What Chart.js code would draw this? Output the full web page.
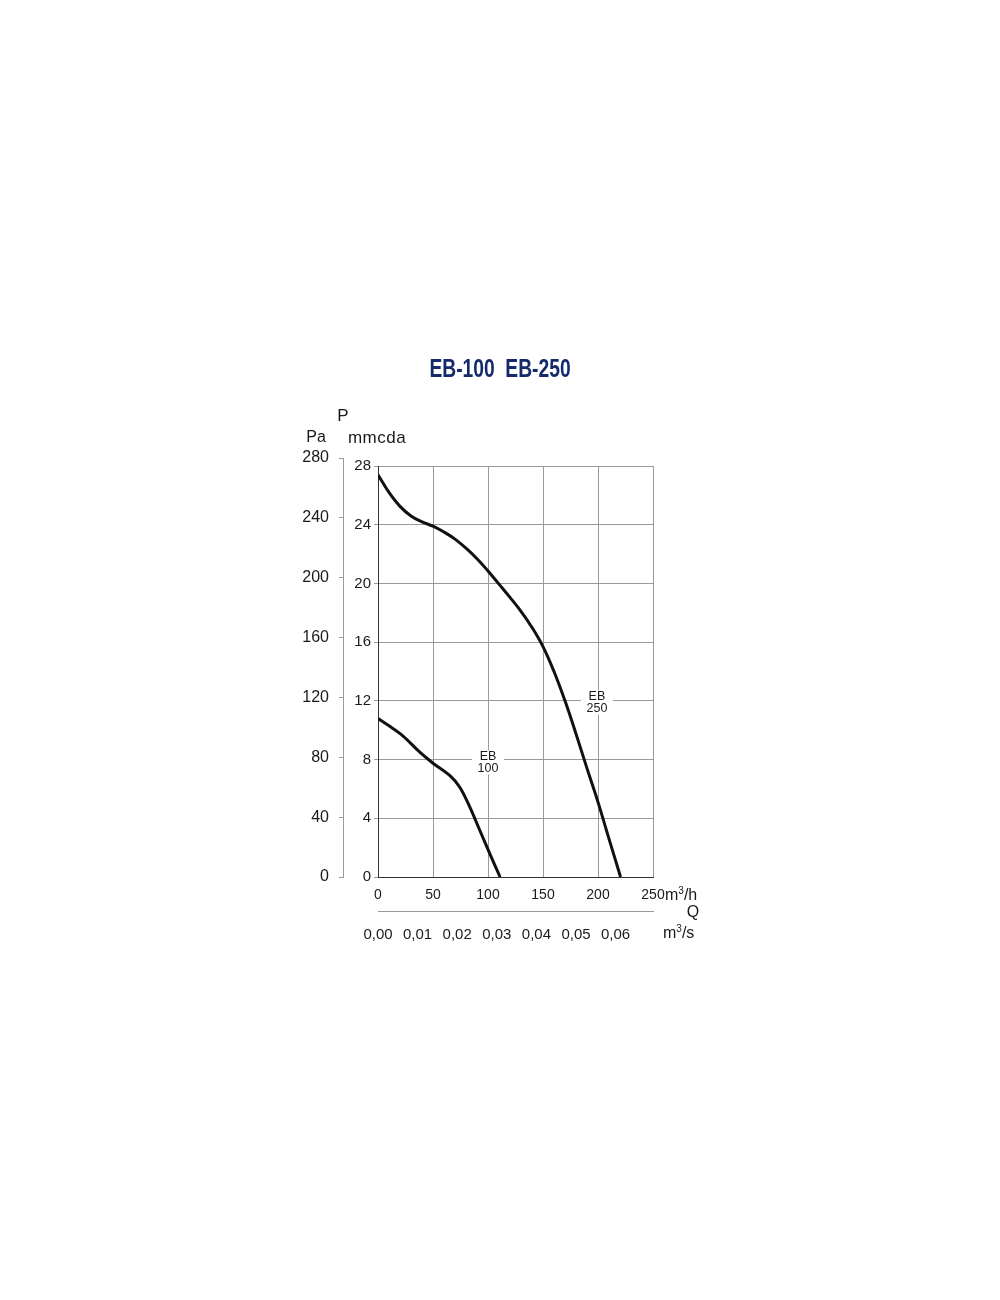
<!DOCTYPE html>
<html><head><meta charset="utf-8">
<script src="https://cdn.jsdelivr.net/npm/chart.js@4.4.1/dist/chart.umd.min.js"></script>
<style>
html,body{margin:0;padding:0;background:#fff;}
#wrap{position:relative;width:1000px;height:1300px;overflow:hidden;}
#c{position:absolute;left:0;top:0;}
.t{position:absolute;font-family:"Liberation Sans",Arial,sans-serif;font-size:16px;color:#1a1a1a;white-space:nowrap;line-height:1;transform:translate(-50%,-50%);}
.l{transform:translate(0,-50%);}
#title{font-family:"Liberation Sans",Arial,sans-serif;font-weight:bold;font-size:26px;color:#152a6b;transform:translate(-50%,-50%) scaleX(0.74);}
sup{font-size:10px;vertical-align:6px;line-height:0;}
</style></head>
<body>
<div id="wrap">
<canvas id="c" width="1000" height="1300"></canvas>
<div class="t" id="title" style="left:500px;top:368px;">EB-100&nbsp;&nbsp;EB-250</div>
<div class="t" style="left:343px;top:415px;font-size:17px;">P</div>
<div class="t" style="left:316px;top:437px;">Pa</div>
<div class="t" style="left:377px;top:437px;font-size:17px;letter-spacing:0.5px;">mmcda</div>
<div class="t l" style="left:665px;top:895px;">m<sup>3</sup>/h</div>
<div class="t" style="left:693px;top:912px;">Q</div>
<div class="t l" style="left:663px;top:933px;">m<sup>3</sup>/s</div>
</div>
<script>
// Flow (m3/h) and pressure (mmcda)
const eb100Q = [0, 10, 22.8, 38, 50, 65.4, 74.5, 83.6, 92.7, 101.8, 111];
const eb100P = [10.8, 10.3, 9.6, 8.5, 7.75, 6.9, 6.1, 4.74, 3.15, 1.56, 0];
const eb250Q = [0, 10, 20, 30, 40, 50, 60, 70, 80, 90, 100, 110, 120, 130, 140, 150, 160, 170, 180, 190, 200, 210, 220.5];
const eb250P = [27.4, 26.2, 25.25, 24.6, 24.2, 23.9, 23.5, 23.02, 22.4, 21.68, 20.85, 19.95, 19.05, 18.1, 17.0, 15.7, 14.0, 12.0, 9.75, 7.4, 5.1, 2.6, 0];
const seriesNames = ['EB-100', 'EB-250'];
// Tick labels
const flowTicks = [0, 50, 100, 150, 200, 250];
const mmTicks = [0, 4, 8, 12, 16, 20, 24, 28];
const paTicks = [0, 40, 80, 120, 160, 200, 240, 280];
const m3sTicks = [0, 0.01, 0.02, 0.03, 0.04, 0.05, 0.06];
// Curve labels
const curveLabelLines = [['EB', '100'], ['EB', '250']];
const curveLabelQ = [100, 199];
const curveLabelP = [7.8, 11.9];

const PA_PER_MM = 9.81;
const FLOW_MAX = 250;
const P_MAX = 28;

Chart.defaults.font.family = '"Liberation Sans", Arial, sans-serif';
Chart.defaults.font.size = 15;
Chart.defaults.color = '#1a1a1a';

const toPts = (q, p) => q.map((v, i) => ({x: v, y: p[i]}));
const gridCol = c => (c.tick && c.tick.value === 0) ? '#333' : '#9a9a9a';

const extras = {
  id: 'extras',
  beforeDatasetsDraw(chart) {
    const ctx = chart.ctx;
    const pa = chart.scales.yPa;
    ctx.save();
    ctx.strokeStyle = '#9a9a9a';
    ctx.lineWidth = 1;
    ctx.beginPath();
    const xl = Math.round(pa.right) - 0.5;
    ctx.moveTo(xl, pa.getPixelForValue(0));
    ctx.lineTo(xl, pa.getPixelForValue(paTicks[paTicks.length - 1]));
    ctx.stroke();
    // curve labels
    const xs = chart.scales.x, ys = chart.scales.y;
    ctx.font = '12.5px "Liberation Sans", Arial, sans-serif';
    ctx.textAlign = 'center';
    ctx.textBaseline = 'middle';
    curveLabelLines.forEach((lines, i) => {
      const cx = xs.getPixelForValue(curveLabelQ[i]);
      const cy = ys.getPixelForValue(curveLabelP[i]);
      ctx.fillStyle = '#fff';
      ctx.fillRect(cx - 16, cy - 12, 32, 24);
      ctx.fillStyle = '#1a1a1a';
      ctx.fillText(lines[0], cx, cy - 5.5);
      ctx.fillText(lines[1], cx, cy + 6);
    });
    ctx.restore();
  }
};

new Chart(document.getElementById('c'), {
  type: 'line',
  data: {
    datasets: [
      {label: seriesNames[0], data: toPts(eb100Q, eb100P), borderColor: '#111', borderWidth: 3, pointRadius: 0, tension: 0.35, fill: false},
      {label: seriesNames[1], data: toPts(eb250Q, eb250P), borderColor: '#111', borderWidth: 3, pointRadius: 0, tension: 0.4, fill: false}
    ]
  },
  options: {
    responsive: false,
    animation: false,
    events: [],
    layout: {padding: {left: 290, right: 347, top: 466, bottom: 349}},
    plugins: {legend: {display: false}, tooltip: {enabled: false}, title: {display: false}},
    scales: {
      x: {
        type: 'linear', position: 'bottom', weight: 0, min: 0, max: FLOW_MAX,
        afterBuildTicks: s => { s.ticks = flowTicks.map(v => ({value: v})); },
        afterFit: s => { s.height = 34; },
        grid: {color: gridCol, lineWidth: 1, drawTicks: false},
        border: {display: true, color: '#333', width: 1},
        ticks: {padding: 10, maxRotation: 0, autoSkip: false, font: {size: 14}}
      },
      xs: {
        type: 'linear', position: 'bottom', weight: 1, min: 0, max: FLOW_MAX / 3600,
        afterBuildTicks: s => { s.ticks = m3sTicks.map(v => ({value: v})); },
        afterFit: s => { s.height = 40; },
        grid: {display: false, drawOnChartArea: false},
        border: {display: true, color: '#9a9a9a', width: 1},
        ticks: {padding: 7, maxRotation: 0, autoSkip: false, font: {size: 15}, callback: v => v.toFixed(2).replace('.', ',')}
      },
      y: {
        type: 'linear', position: 'left', weight: 0, min: 0, max: P_MAX,
        afterBuildTicks: s => { s.ticks = mmTicks.map(v => ({value: v})); },
        afterFit: s => { s.width = 34; },
        grid: {color: gridCol, lineWidth: 1, drawTicks: true, tickLength: 4, tickColor: '#9a9a9a'},
        border: {display: true, color: '#333', width: 1},
        ticks: {padding: 3, autoSkip: false, font: {size: 15}}
      },
      yPa: {
        type: 'linear', position: 'left', weight: 1, min: 0, max: P_MAX * PA_PER_MM,
        afterBuildTicks: s => { s.ticks = paTicks.map(v => ({value: v})); },
        afterFit: s => { s.width = 54; },
        grid: {display: true, drawOnChartArea: false, drawTicks: true, tickLength: 5, color: '#9a9a9a'},
        border: {display: false},
        ticks: {padding: 10, autoSkip: false, font: {size: 16}}
      }
    }
  },
  plugins: [extras]
});
</script>
</body></html>
